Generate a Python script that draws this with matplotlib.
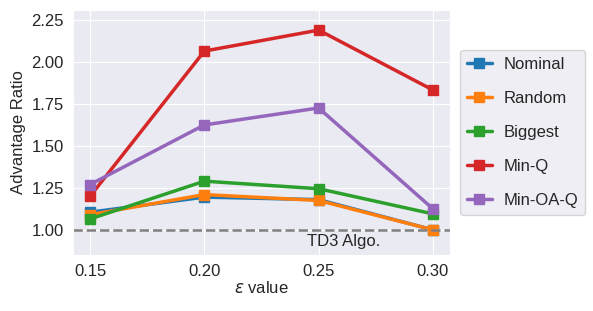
import matplotlib
matplotlib.use("Agg")
import matplotlib.pyplot as plt
import seaborn as sns

sns.set_style("darkgrid")
plt.rcParams['font.family'] = ['Liberation Sans', 'DejaVu Sans']

eps = [0.15, 0.20, 0.25, 0.30]
nominal = [1.105, 1.195, 1.18, 1.00]
random_ = [1.09, 1.21, 1.175, 1.00]
biggest = [1.065, 1.29, 1.245, 1.095]
min_q = [1.20, 2.065, 2.19, 1.833]
min_oa_q = [1.27, 1.625, 1.726, 1.125]
labels = ["Nominal", "Random", "Biggest", "Min-Q", "Min-OA-Q"]
colors = ["#1f77b4", "#ff7f0e", "#2ca02c", "#d62728", "#9467bd"]
series = [nominal, random_, biggest, min_q, min_oa_q]

fig = plt.figure(figsize=(5.93, 3.11), dpi=100)
ax = fig.add_axes([0.123, 0.18, 0.636, 0.788])
for s, lab, c in zip(series, labels, colors):
    ax.plot(eps, s, marker='s', color=c, label=lab, linewidth=2.5, markersize=7)
ax.axhline(1.0, color='gray', linestyle='--', linewidth=1.8)
ax.text(0.2447, 0.93, "TD3 Algo.", fontsize=12, va='center', ha='left')
ax.set_ylim(0.85, 2.31)
ax.set_xticks(eps)
ax.set_xticklabels(["0.15", "0.20", "0.25", "0.30"])
ax.set_yticks([1.0, 1.25, 1.5, 1.75, 2.0, 2.25])
ax.set_yticklabels(["1.00", "1.25", "1.50", "1.75", "2.00", "2.25"])
ax.tick_params(labelsize=12, pad=3)
ax.set_xlabel(r"$\varepsilon$ value", fontsize=12, labelpad=1)
ax.set_ylabel("Advantage Ratio", fontsize=12, labelpad=4)
ax.legend(loc='center left', bbox_to_anchor=(1.005, 0.5), fontsize=12,
          labelspacing=1.15, handlelength=1.5, handletextpad=0.7, markerscale=1.0)
fig.savefig("out.png", dpi=100)
